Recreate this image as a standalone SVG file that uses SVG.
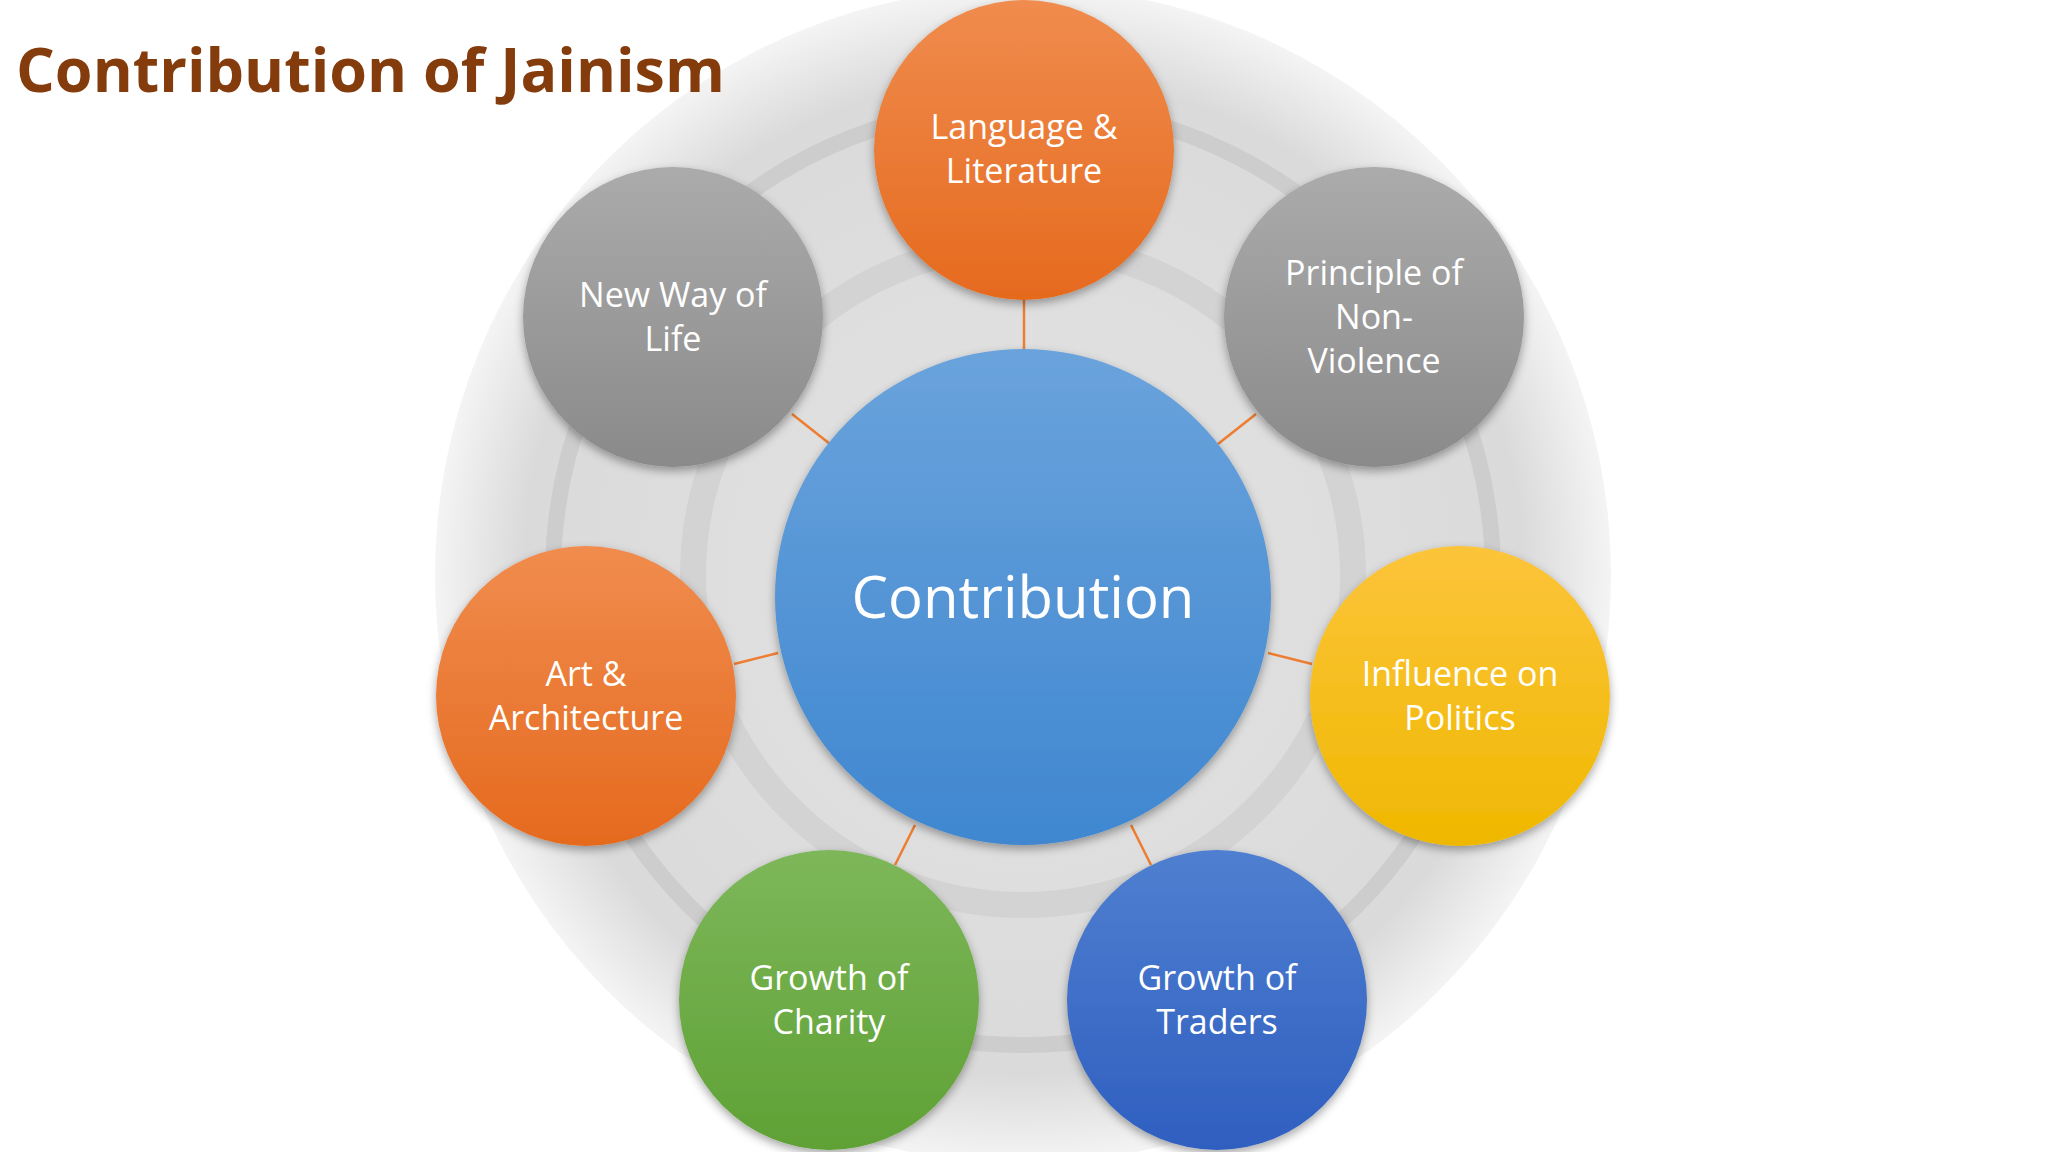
<svg xmlns="http://www.w3.org/2000/svg" width="2048" height="1152" viewBox="0 0 2048 1152">
<defs>
<radialGradient id="bg" cx="0.5" cy="0.5" r="0.5"><stop offset="0" stop-color="#e4e4e4"/><stop offset="0.85" stop-color="#dadada"/><stop offset="1" stop-color="#f4f4f4"/></radialGradient>
<linearGradient id="gBlue" x1="0" y1="0" x2="0" y2="1"><stop offset="0" stop-color="#6aa3dc"/><stop offset="1" stop-color="#3f87d0"/></linearGradient>
<linearGradient id="gOr" x1="0" y1="0" x2="0" y2="1"><stop offset="0" stop-color="#f08c4e"/><stop offset="1" stop-color="#e56a1e"/></linearGradient>
<linearGradient id="gGr" x1="0" y1="0" x2="0" y2="1"><stop offset="0" stop-color="#ababab"/><stop offset="1" stop-color="#8a8a8a"/></linearGradient>
<linearGradient id="gY" x1="0" y1="0" x2="0" y2="1"><stop offset="0" stop-color="#fcc43a"/><stop offset="1" stop-color="#efb800"/></linearGradient>
<linearGradient id="gGn" x1="0" y1="0" x2="0" y2="1"><stop offset="0" stop-color="#7db75a"/><stop offset="1" stop-color="#5fa135"/></linearGradient>
<linearGradient id="gDb" x1="0" y1="0" x2="0" y2="1"><stop offset="0" stop-color="#4f7fd0"/><stop offset="1" stop-color="#2f5fc0"/></linearGradient>
<filter id="sh" x="-20%" y="-20%" width="140%" height="140%"><feDropShadow dx="0" dy="4" stdDeviation="5" flood-opacity="0.35"/></filter>
</defs>
<style>
.t{font-family:"Open Sans","Liberation Sans",sans-serif;fill:#fff;font-size:34px;text-anchor:middle}
.c{stroke:#ed7d31;stroke-width:2.5}
</style>
<rect width="2048" height="1152" fill="#fff"/>
<circle cx="1023" cy="575" r="588" fill="url(#bg)"/>
<circle cx="1023" cy="575" r="470" fill="none" stroke="#cdcdcd" stroke-width="16"/>
<circle cx="1023" cy="575" r="330" fill="none" stroke="#d3d3d3" stroke-width="26"/>
<text x="16" y="92" font-family="Open Sans, Liberation Sans, sans-serif" font-weight="bold" font-size="61" fill="#843c0c">Contribution of Jainism</text>
<g id="connectors">
<line class="c" x1="1024" y1="300" x2="1024" y2="352"/>
<line class="c" x1="792" y1="414" x2="830" y2="444"/>
<line class="c" x1="1256" y1="414" x2="1218" y2="444"/>
<line class="c" x1="734" y1="664" x2="778" y2="653"/>
<line class="c" x1="1312" y1="664" x2="1268" y2="653"/>
<line class="c" x1="895" y1="865" x2="915" y2="825"/>
<line class="c" x1="1151" y1="865" x2="1131" y2="825"/>
</g>
<g id="center"><circle cx="1023" cy="597" r="248" fill="url(#gBlue)" filter="url(#sh)"/><text class="t" x="1023" y="618" style="font-size:58px">Contribution</text></g>
<g id="lang"><circle cx="1024" cy="150" r="150" fill="url(#gOr)" filter="url(#sh)"/><text class="t" x="1024" y="139">Language &amp;</text><text class="t" x="1024" y="183">Literature</text></g>
<g id="newway"><circle cx="673" cy="317" r="150" fill="url(#gGr)" filter="url(#sh)"/><text class="t" x="673" y="307">New Way of</text><text class="t" x="673" y="351">Life</text></g>
<g id="principle"><circle cx="1374" cy="317" r="150" fill="url(#gGr)" filter="url(#sh)"/><text class="t" x="1374" y="285">Principle of</text><text class="t" x="1374" y="329">Non-</text><text class="t" x="1374" y="373">Violence</text></g>
<g id="art"><circle cx="586" cy="696" r="150" fill="url(#gOr)" filter="url(#sh)"/><text class="t" x="586" y="686">Art &amp;</text><text class="t" x="586" y="730">Architecture</text></g>
<g id="influence"><circle cx="1460" cy="696" r="150" fill="url(#gY)" filter="url(#sh)"/><text class="t" x="1460" y="686">Influence on</text><text class="t" x="1460" y="730">Politics</text></g>
<g id="charity"><circle cx="829" cy="1000" r="150" fill="url(#gGn)" filter="url(#sh)"/><text class="t" x="829" y="990">Growth of</text><text class="t" x="829" y="1034">Charity</text></g>
<g id="traders"><circle cx="1217" cy="1000" r="150" fill="url(#gDb)" filter="url(#sh)"/><text class="t" x="1217" y="990">Growth of</text><text class="t" x="1217" y="1034">Traders</text></g>
</svg>
